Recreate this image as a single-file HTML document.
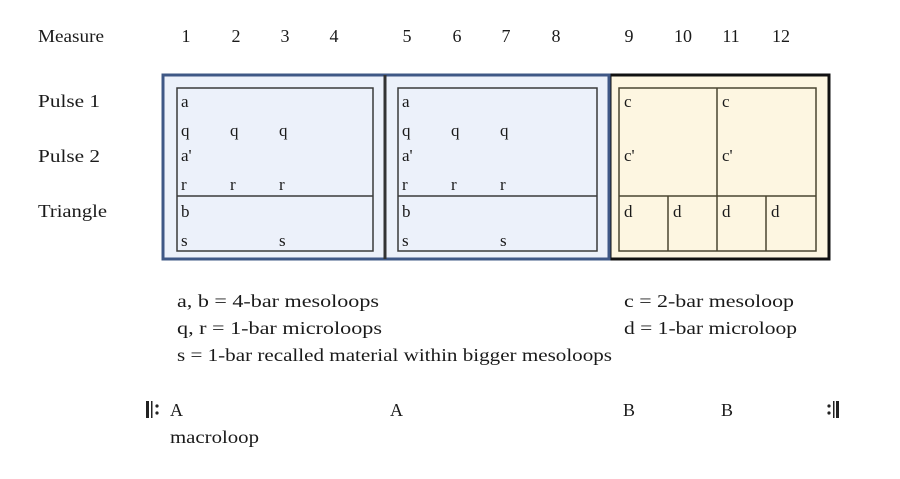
<!DOCTYPE html>
<html><head><style>
html,body{margin:0;padding:0;background:#fff;}
svg{display:block;}
text{font-family:"Liberation Serif",serif;fill:#1a1a1a;}
.b{fill:#444;font-size:17px;}
.y{fill:#5a5238;font-size:17px;}
</style></head><body>
<svg width="900" height="479" viewBox="0 0 900 479" xmlns="http://www.w3.org/2000/svg">
<g font-size="18">
<text x="38" y="42" textLength="66" lengthAdjust="spacingAndGlyphs">Measure</text>
<text x="186" y="42" text-anchor="middle">1</text>
<text x="236" y="42" text-anchor="middle">2</text>
<text x="285" y="42" text-anchor="middle">3</text>
<text x="334" y="42" text-anchor="middle">4</text>
<text x="407" y="42" text-anchor="middle">5</text>
<text x="457" y="42" text-anchor="middle">6</text>
<text x="506" y="42" text-anchor="middle">7</text>
<text x="556" y="42" text-anchor="middle">8</text>
<text x="629" y="42" text-anchor="middle">9</text>
<text x="683" y="42" text-anchor="middle">10</text>
<text x="731" y="42" text-anchor="middle">11</text>
<text x="781" y="42" text-anchor="middle">12</text>
<text x="38" y="107" textLength="62" lengthAdjust="spacingAndGlyphs">Pulse 1</text>
<text x="38" y="162" textLength="62" lengthAdjust="spacingAndGlyphs">Pulse 2</text>
<text x="38" y="217" textLength="69" lengthAdjust="spacingAndGlyphs">Triangle</text>
</g>
<rect x="610" y="75" width="219" height="184" fill="#fdf6e1" stroke="#111" stroke-width="3"/>
<rect x="163" y="75" width="222" height="184" fill="#ecf1fa" stroke="#3f5886" stroke-width="3"/>
<rect x="385" y="75" width="224" height="184" fill="#ecf1fa" stroke="#3f5886" stroke-width="3"/>
<line x1="385" y1="75" x2="385" y2="259" stroke="#333" stroke-width="3"/>
<g fill="none" stroke="#3a3a3a" stroke-width="1.5">
<rect x="177" y="88" width="196" height="163"/>
<line x1="177" y1="196" x2="373" y2="196"/>
<rect x="398" y="88" width="199" height="163"/>
<line x1="398" y1="196" x2="597" y2="196"/>
</g>
<g fill="none" stroke="#4a4530" stroke-width="1.5">
<rect x="619" y="88" width="197" height="163"/>
<line x1="717" y1="88" x2="717" y2="251"/>
<line x1="619" y1="196" x2="816" y2="196"/>
<line x1="668" y1="196" x2="668" y2="251"/>
<line x1="766" y1="196" x2="766" y2="251"/>
</g>
<g class="b">
<text x="181" y="107">a</text>
<text x="181" y="136">q</text><text x="230" y="136">q</text><text x="279" y="136">q</text>
<text x="181" y="161">a'</text>
<text x="181" y="190">r</text><text x="230" y="190">r</text><text x="279" y="190">r</text>
<text x="181" y="217">b</text>
<text x="181" y="246">s</text><text x="279" y="246">s</text>
<text x="402" y="107">a</text>
<text x="402" y="136">q</text><text x="451" y="136">q</text><text x="500" y="136">q</text>
<text x="402" y="161">a'</text>
<text x="402" y="190">r</text><text x="451" y="190">r</text><text x="500" y="190">r</text>
<text x="402" y="217">b</text>
<text x="402" y="246">s</text><text x="500" y="246">s</text>
</g>
<g class="y">
<text x="624" y="107">c</text><text x="722" y="107">c</text>
<text x="624" y="161">c'</text><text x="722" y="161">c'</text>
<text x="624" y="217">d</text><text x="673" y="217">d</text><text x="722" y="217">d</text><text x="771" y="217">d</text>
</g>
<g font-size="18">
<text x="177" y="307" textLength="202" lengthAdjust="spacingAndGlyphs">a, b = 4-bar mesoloops</text>
<text x="177" y="334" textLength="205" lengthAdjust="spacingAndGlyphs">q, r = 1-bar microloops</text>
<text x="177" y="361" textLength="435" lengthAdjust="spacingAndGlyphs">s = 1-bar recalled material within bigger mesoloops</text>
<text x="624" y="307" textLength="170" lengthAdjust="spacingAndGlyphs">c = 2-bar mesoloop</text>
<text x="624" y="334" textLength="173" lengthAdjust="spacingAndGlyphs">d = 1-bar microloop</text>
<text x="170" y="416">A</text>
<text x="390" y="416">A</text>
<text x="623" y="416">B</text>
<text x="721" y="416">B</text>
<text x="170" y="443" textLength="89" lengthAdjust="spacingAndGlyphs">macroloop</text>
</g>
<rect x="146" y="401" width="3" height="17" fill="#222"/>
<rect x="151" y="401" width="1.5" height="17" fill="#222"/>
<circle cx="157" cy="406" r="1.6" fill="#222"/><circle cx="157" cy="413" r="1.6" fill="#222"/>
<circle cx="829" cy="406" r="1.6" fill="#222"/><circle cx="829" cy="413" r="1.6" fill="#222"/>
<rect x="833" y="401" width="1.5" height="17" fill="#222"/>
<rect x="836" y="401" width="3" height="17" fill="#222"/>
</svg>
</body></html>
